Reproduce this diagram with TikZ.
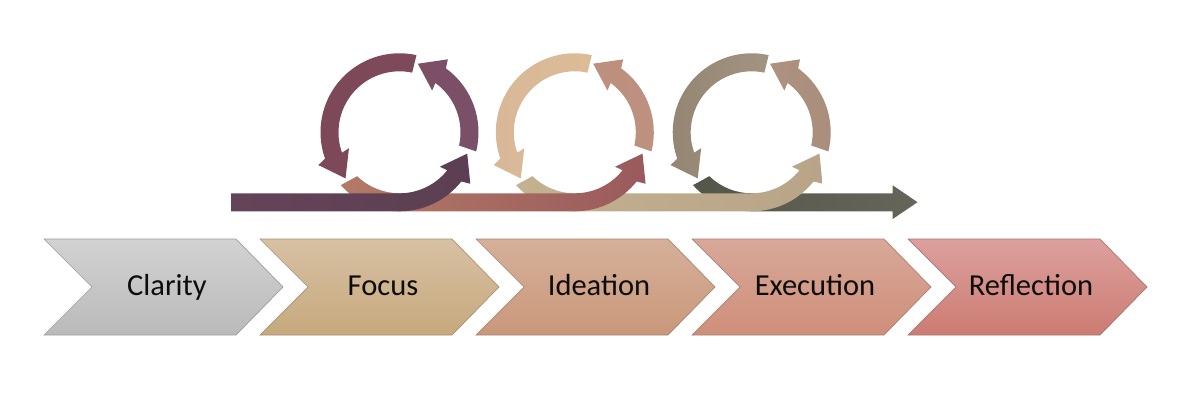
\documentclass[tikz,border=0pt]{standalone}
\usepackage{fontspec}
\setmainfont{Carlito}
\definecolor{ringAa}{HTML}{7D4858}\definecolor{ringAb}{HTML}{7E4A5A}
\definecolor{ringBa}{HTML}{7C4F66}\definecolor{ringBb}{HTML}{7A5068}
\definecolor{ringCa}{HTML}{D8B898}\definecolor{ringCb}{HTML}{DCBB96}
\definecolor{ringDa}{HTML}{BC8F7E}\definecolor{ringDb}{HTML}{BF917F}
\definecolor{ringEa}{HTML}{958674}\definecolor{ringEb}{HTML}{A39382}
\definecolor{ringFa}{HTML}{AE9180}\definecolor{ringFb}{HTML}{A98E7C}
\definecolor{barAa}{HTML}{644458}\definecolor{barAb}{HTML}{5C3F52}
\definecolor{barBa}{HTML}{B27A66}\definecolor{barBb}{HTML}{9A5A5C}
\definecolor{barCa}{HTML}{C3B18F}\definecolor{barCb}{HTML}{B8A488}
\definecolor{barDa}{HTML}{55564A}\definecolor{barDb}{HTML}{66655A}
\definecolor{chAt}{HTML}{D2D2D2}\definecolor{chAb}{HTML}{BABABA}
\definecolor{chBt}{HTML}{D8C0A4}\definecolor{chBb}{HTML}{C6A97C}
\definecolor{chCt}{HTML}{D6B09A}\definecolor{chCb}{HTML}{C9987A}
\definecolor{chDt}{HTML}{D8A898}\definecolor{chDb}{HTML}{CF8F7A}
\definecolor{chEt}{HTML}{DCA09E}\definecolor{chEb}{HTML}{CC7C72}
\tikzset{
  x=1pt,y=1pt,
  chev/.style n args={2}{draw=#2!75!black!85,line width=0.7pt,top color=#1,bottom color=#2},
  lab/.style={font=\fontsize{30.5}{33}\selectfont,text=black!95,inner sep=0pt,anchor=base},
  flow/.style n args={2}{left color=#1,right color=#2,draw=none},
}
\newcommand\cOut{79pt}
\newcommand\cIn{61pt}
% one chevron: left x, top colour, bottom colour, node name, text
\newcommand\chevron[5]{%
  \path[chev={#2}{#3}] (#1,161) -- ++(192,0) -- ++(47,-48) -- ++(-47,-48) -- ++(-192,0) -- ++(48,48) -- cycle;
  \node[lab] (#4) at (#1+123,104.5) {#5};
}
% ring arrow: centre, tail outer angle, tail inner angle, head base angle, style
\newcommand\ringarrow[5]{%
  \path[#5] ([shift={(#2:\cOut)}]#1) arc[start angle=#2,end angle=#4,radius=\cOut]
    -- ([shift={({#4+2.5}:87.5pt)}]#1) -- ([shift={({#4+21}:71pt)}]#1) -- ([shift={({#4-2}:53pt)}]#1)
    -- ([shift={(#4:\cIn)}]#1) arc[start angle=#4,end angle=#3,radius=\cIn] -- cycle;
}
% bar that leaves ring #1 and curls up round ring #2
\newcommand\curlbar[3]{%
  \path[#3] ([shift={(222:\cOut)}]#1) arc[start angle=222,end angle=270,radius=\cOut]
    -- ([shift={(270:\cOut)}]#2) arc[start angle=270,end angle=321.5,radius=\cOut]
    -- ([shift={(324:87.5pt)}]#2) -- ([shift={(342.5:71pt)}]#2) -- ([shift={(319.5:53pt)}]#2)
    -- ([shift={(321.5:\cIn)}]#2) arc[start angle=321.5,end angle=270,radius=\cIn]
    -- ([shift={(270:\cIn)}]#1) arc[start angle=270,end angle=226,radius=\cIn] -- cycle;
}
\begin{document}
\begin{tikzpicture}
\useasboundingbox (0,0) rectangle (1200,400);
\coordinate (r1) at (399.5,267.7);
\coordinate (r2) at (574.8,267.7);
\coordinate (r3) at (751.7,267.7);
% rings
\ringarrow{r1}{77.6}{78}{199.5}{flow={ringAa}{ringAb}}
\ringarrow{r1}{-14}{-12.5}{54}{flow={ringBa}{ringBb}}
\ringarrow{r2}{77.6}{78}{199.5}{flow={ringCa}{ringCb}}
\ringarrow{r2}{-14}{-12.5}{54}{flow={ringDa}{ringDb}}
\ringarrow{r3}{77.6}{78}{199.5}{flow={ringEa}{ringEb}}
\ringarrow{r3}{-14}{-12.5}{54}{flow={ringFa}{ringFb}}
% last bar, straight on to the arrow head
\path[flow={barDa}{barDb}] ([shift={(222:\cOut)}]r3) arc[start angle=222,end angle=270,radius=\cOut]
  -- (892.7,188.7) -- (892.7,181) -- (917.5,197.8) -- (892.7,214.7)
  -- (892.7,206.7) -- ([shift={(270:\cIn)}]r3) arc[start angle=270,end angle=226,radius=\cIn] -- cycle;
\curlbar{r2}{r3}{flow={barCa}{barCb}}
\curlbar{r1}{r2}{flow={barBa}{barBb}}
% first bar
\path[flow={barAa}{barAb}] (231,188.7) -- ([shift={(270:\cOut)}]r1) arc[start angle=270,end angle=321.5,radius=\cOut]
    -- ([shift={(324:87.5pt)}]r1) -- ([shift={(342.5:71pt)}]r1) -- ([shift={(319.5:53pt)}]r1)
    -- ([shift={(321.5:\cIn)}]r1) arc[start angle=321.5,end angle=270,radius=\cIn]
    -- (231,206.7) -- cycle;
% chevrons
\chevron{44}{chAt}{chAb}{clarity}{Clarity}
\chevron{260}{chBt}{chBb}{focus}{Focus}
\chevron{476}{chCt}{chCb}{ideation}{Ideation}
\chevron{692}{chDt}{chDb}{execution}{Execution}
\chevron{908}{chEt}{chEb}{reflection}{Reflection}
\end{tikzpicture}
\end{document}
